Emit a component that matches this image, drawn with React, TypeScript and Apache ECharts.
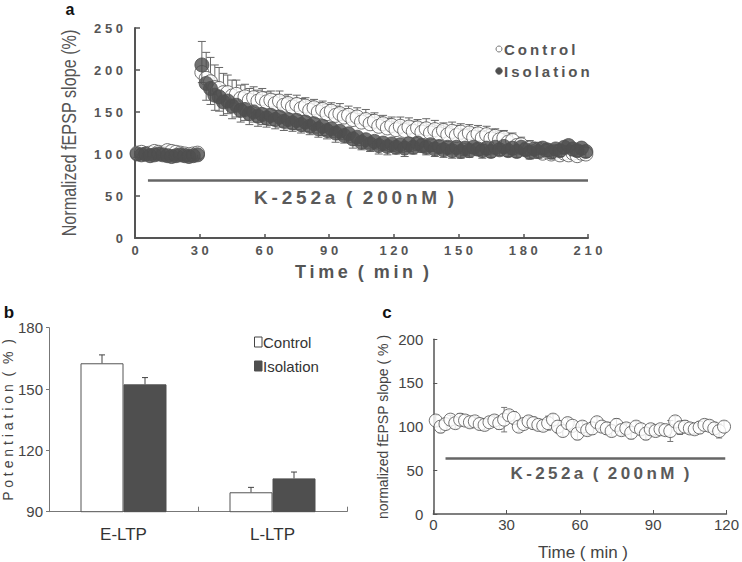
import React, { useEffect, useRef } from 'react';
import * as echarts from 'echarts';

// ---------- Panel a data (sampled every 2 min) ----------
const A_STEP = 2;
const aControlBase = [101, 102, 100, 101, 103, 102, 101, 104, 103, 102, 101, 100, 99, 100, 101];
const aIsoBase = [100, 99, 100, 98, 99, 100, 99, 98, 97, 98, 99, 98, 97, 98, 99];
const aControlBaseErr = [4, 4, 5, 4, 5, 4, 4, 5, 4, 4, 5, 4, 4, 5, 4];
const aIsoBaseErr = [4, 5, 4, 4, 5, 4, 5, 4, 4, 5, 4, 4, 5, 4, 4];
const aControlPost = [
  197, 190, 186, 179, 178, 173, 173, 169, 171, 166,
  168, 164, 167, 163, 166, 162, 164, 160, 163, 158,
  160, 156, 159, 154, 157, 152, 155, 150, 153, 148,
  151, 146, 148, 144, 146, 141, 144, 138, 141, 136,
  139, 133, 136, 131, 134, 129, 133, 128, 132, 127,
  131, 126, 130, 125, 129, 124, 128, 123, 127, 122,
  126, 121, 125, 120, 124, 119, 123, 118, 121, 117,
  119, 114, 116, 110, 111, 106, 107, 103, 105, 101,
  103, 100, 102, 99, 101, 99, 101, 98, 101, 100,
];
const aIsoPost = [
  206, 184, 178, 170, 168, 162, 163, 157, 158, 152,
  153, 148, 150, 145, 147, 143, 146, 141, 144, 139,
  141, 137, 140, 135, 138, 133, 136, 130, 133, 128,
  130, 125, 127, 122, 124, 118, 120, 114, 117, 112,
  115, 110, 113, 109, 112, 108, 111, 107, 112, 108,
  113, 110, 108, 111, 106, 109, 105, 108, 104, 108,
  103, 107, 104, 108, 106, 104, 107, 103, 108, 105,
  109, 104, 107, 103, 108, 105, 102, 106, 103, 107,
  105, 102, 106, 104, 108, 110, 106, 104, 107, 103,
];
const aControlPostErr = [
  37, 31, 29, 27, 25, 23, 21, 19, 17, 16,
  15, 14, 13, 13, 12, 12, 11, 11, 12, 11,
  11, 10, 11, 12, 10, 11, 10, 11, 10, 11,
  10, 11, 12, 10, 11, 10, 11, 10, 12, 11,
  10, 11, 10, 11, 10, 10, 11, 10, 11, 12,
  10, 11, 12, 10, 11, 10, 9, 10, 11, 12,
  10, 9, 10, 11, 10, 9, 10, 11, 9, 10,
  9, 10, 9, 8, 9, 10, 9, 8, 9, 8,
  9, 8, 9, 8, 9, 8, 9, 10, 9, 8,
];
const aIsoPostErr = [
  21, 20, 19, 18, 17, 16, 15, 15, 14, 14,
  13, 13, 12, 12, 12, 11, 12, 11, 12, 11,
  11, 10, 11, 10, 11, 10, 11, 10, 11, 10,
  10, 11, 10, 9, 10, 11, 10, 9, 10, 9,
  9, 10, 9, 10, 9, 8, 9, 10, 9, 8,
  9, 8, 9, 8, 9, 8, 9, 8, 9, 8,
  8, 9, 8, 7, 8, 9, 8, 7, 8, 7,
  8, 7, 8, 7, 8, 7, 8, 7, 8, 7,
  8, 7, 8, 7, 8, 9, 8, 7, 8, 7,
];
const aDrug = { from: 6, to: 210, level: 69 };

// ---------- Panel b data ----------
const bCategories = ['E-LTP', 'L-LTP'];
const bControl = [162.6, 99.5];
const bIsolation = [152.3, 106.3];
const bControlErr = [4.1, 2.4];
const bIsolationErr = [3.3, 3.1];

// ---------- Panel c data (sampled every 2 min) ----------
const C_STEP = 2;
const cValues = [
  107, 100, 103, 108, 104, 108, 107, 105, 106, 103,
  102, 105, 107, 104, 108, 113, 110, 100, 103, 106,
  104, 102, 101, 104, 108, 100, 95, 104, 101, 92,
  100, 96, 98, 105, 100, 98, 95, 102, 96, 98,
  93, 100, 97, 92, 97, 95, 97, 96, 95, 106,
  99, 100, 98, 97, 99, 102, 101, 98, 95, 100,
];
const cErr = [
  6, 7, 6, 5, 6, 7, 6, 6, 5, 6,
  6, 5, 6, 7, 14, 6, 7, 6, 5, 6,
  7, 6, 6, 8, 6, 7, 6, 6, 5, 7,
  6, 6, 7, 6, 6, 7, 6, 7, 6, 6,
  7, 6, 6, 7, 6, 6, 5, 6, 12, 6,
  8, 7, 6, 6, 7, 6, 6, 7, 8, 6,
];
const cDrug = { from: 5, to: 119.5, level: 64 };

const FONT = "'Liberation Sans', Arial, Helvetica, sans-serif";
const DARK = '#4f4f4f';
const AXIS = '#555555';
const THIN = '\u2009';

const spaced = (s: string, sep = ' ') => s.split('').join(sep);

function buildA(base: number[], post: number[], baseErr: number[], postErr: number[]) {
  const pts: number[][] = [];
  base.forEach((v, i) => pts.push([1 + A_STEP * i, v, baseErr[i]]));
  post.forEach((v, i) => pts.push([31 + A_STEP * i, v, postErr[i]]));
  return pts;
}

function errorBars(dir: 'up' | 'down' | 'both', capHalf: number, color: string, offsetPx = 0) {
  return (_params: any, api: any) => {
    const x = api.value(0);
    const y = api.value(1);
    const e = api.value(2);
    const sign = offsetPx ? api.value(3) : 0;
    const c = api.coord([x, y]);
    const px = c[0] + offsetPx * sign;
    const kids: any[] = [];
    const st = { stroke: color, lineWidth: 1 };
    const add = (yy: number) => {
      const p = api.coord([x, yy]);
      kids.push({ type: 'line', shape: { x1: px, y1: c[1], x2: px, y2: p[1] }, style: st });
      kids.push({ type: 'line', shape: { x1: px - capHalf, y1: p[1], x2: px + capHalf, y2: p[1] }, style: st });
    };
    if (dir !== 'down') add(y + e);
    if (dir !== 'up') add(y - e);
    return { type: 'group', children: kids };
  };
}

function txt(x: number, y: number, text: string, size: number, opts: any = {}) {
  const { weight = 'normal', color = '#444', align = 'center', rotation = 0, scaleX = 1, family = FONT } = opts;
  return {
    type: 'text',
    x,
    y,
    rotation,
    scaleX,
    silent: true,
    style: {
      text,
      fill: color,
      fontSize: size,
      fontWeight: weight,
      fontFamily: family,
      align,
      verticalAlign: 'middle',
      textAlign: align,
      textVerticalAlign: 'middle',
    },
  };
}

export default function App() {
  const ref = useRef<HTMLDivElement>(null);
  useEffect(() => {
    if (!ref.current) return;
    const chart = echarts.init(ref.current, undefined, { renderer: 'svg' });

    const aCtrl = buildA(aControlBase, aControlPost, aControlBaseErr, aControlPostErr);
    const aIso = buildA(aIsoBase, aIsoPost, aIsoBaseErr, aIsoPostErr);
    const cPts = cValues.map((v, i) => [1 + C_STEP * i, v, cErr[i]]);
    const bCtrlPts = bControl.map((v, i) => [i, v, bControlErr[i], -1]);
    const bIsoPts = bIsolation.map((v, i) => [i, v, bIsolationErr[i], 1]);

    const aLabel = { color: AXIS, fontSize: 13, fontWeight: 'bold', fontFamily: FONT };
    const cLabel = { color: '#444', fontSize: 15, fontFamily: FONT };

    const option: any = {
      animation: false,
      backgroundColor: '#ffffff',
      grid: [
        { left: 135, top: 28, width: 453, height: 210 },
        { left: 49, top: 327.7, width: 298, height: 184 },
        { left: 433.3, top: 339.3, width: 295, height: 174.7 },
      ],
      xAxis: [
        {
          gridIndex: 0, type: 'value', min: 0, max: 210, interval: 30,
          axisLine: { show: true, onZero: false, lineStyle: { color: AXIS, width: 2 } },
          axisTick: { show: true, inside: true, length: 4, lineStyle: { color: AXIS, width: 1.5 } },
          axisLabel: { ...aLabel, margin: 6, formatter: (v: number) => spaced(String(v)) },
          splitLine: { show: false },
        },
        {
          gridIndex: 1, type: 'category', data: bCategories,
          axisLine: { show: true, onZero: false, lineStyle: { color: '#777', width: 1 } },
          axisTick: { show: true, inside: true, length: 5, lineStyle: { color: '#777' } },
          axisLabel: { color: '#333', fontSize: 17, fontFamily: FONT, margin: 14 },
        },
        {
          gridIndex: 2, type: 'value', min: 0, max: 120, interval: 30,
          axisLine: { show: true, onZero: false, lineStyle: { color: AXIS, width: 1.5 } },
          axisTick: { show: true, inside: true, length: 4, lineStyle: { color: AXIS } },
          axisLabel: { ...cLabel, margin: 3 },
          splitLine: { show: false },
        },
      ],
      yAxis: [
        {
          gridIndex: 0, type: 'value', min: 0, max: 250, interval: 50,
          axisLine: { show: true, lineStyle: { color: AXIS, width: 2 } },
          axisTick: { show: true, inside: true, length: 5, lineStyle: { color: AXIS, width: 1.5 } },
          axisLabel: { ...aLabel, margin: 12, formatter: (v: number) => spaced(String(v)) },
          splitLine: { show: false },
        },
        {
          gridIndex: 1, type: 'value', min: 90, max: 180, interval: 30,
          axisLine: { show: true, lineStyle: { color: '#777', width: 1 } },
          axisTick: { show: true, inside: false, length: 3, lineStyle: { color: '#777' } },
          axisLabel: { color: '#444', fontSize: 15, fontFamily: FONT, margin: 6 },
          splitLine: { show: false },
        },
        {
          gridIndex: 2, type: 'value', min: 0, max: 200, interval: 50,
          axisLine: { show: true, lineStyle: { color: AXIS, width: 1.5 } },
          axisTick: { show: true, inside: true, length: 4, lineStyle: { color: AXIS } },
          axisLabel: { ...cLabel, margin: 10 },
          splitLine: { show: false },
        },
      ],
      series: [
        // ----- panel a -----
        {
          type: 'custom', name: 'ControlErr', xAxisIndex: 0, yAxisIndex: 0, z: 2,
          renderItem: errorBars('up', 4, '#666'), data: aCtrl, silent: true,
        },
        {
          type: 'scatter', name: 'Control', xAxisIndex: 0, yAxisIndex: 0, z: 3,
          symbol: 'circle', symbolSize: 14, data: aCtrl.map((p) => [p[0], p[1]]),
          itemStyle: { color: '#ffffff', borderColor: DARK, borderWidth: 1 },
          silent: true,
          markLine: {
            silent: true, symbol: 'none', label: { show: false },
            lineStyle: { color: '#666', width: 2.5, type: 'solid' },
            data: [[{ coord: [aDrug.from, aDrug.level] }, { coord: [aDrug.to, aDrug.level] }]],
          },
        },
        {
          type: 'custom', name: 'IsolationErr', xAxisIndex: 0, yAxisIndex: 0, z: 4,
          renderItem: errorBars('down', 4, '#666'), data: aIso, silent: true,
        },
        {
          type: 'scatter', name: 'Isolation', xAxisIndex: 0, yAxisIndex: 0, z: 5,
          symbol: 'circle', symbolSize: 14, data: aIso.map((p) => [p[0], p[1]]),
          itemStyle: { color: DARK, borderColor: DARK, borderWidth: 1 },
          silent: true,
        },
        // ----- panel b -----
        {
          type: 'bar', name: 'Control', xAxisIndex: 1, yAxisIndex: 1, barWidth: 43, barGap: '0%',
          data: bControl, itemStyle: { color: '#ffffff', borderColor: '#555', borderWidth: 1 }, silent: true,
        },
        {
          type: 'bar', name: 'Isolation', xAxisIndex: 1, yAxisIndex: 1, barWidth: 43, barGap: '0%',
          data: bIsolation, itemStyle: { color: DARK, borderColor: DARK, borderWidth: 1 }, silent: true,
        },
        {
          type: 'custom', name: 'bCtrlErr', xAxisIndex: 1, yAxisIndex: 1, z: 3,
          renderItem: errorBars('up', 3, '#444', 21.5), data: bCtrlPts, silent: true,
        },
        {
          type: 'custom', name: 'bIsoErr', xAxisIndex: 1, yAxisIndex: 1, z: 3,
          renderItem: errorBars('up', 3, '#444', 21.5), data: bIsoPts, silent: true,
        },
        // ----- panel c -----
        {
          type: 'custom', name: 'cErr', xAxisIndex: 2, yAxisIndex: 2, z: 2,
          renderItem: errorBars('both', 3, '#777'), data: cPts, silent: true,
        },
        {
          type: 'scatter', name: 'cControl', xAxisIndex: 2, yAxisIndex: 2, z: 3,
          symbol: 'circle', symbolSize: 13, data: cPts.map((p) => [p[0], p[1]]),
          itemStyle: { color: '#ffffff', borderColor: DARK, borderWidth: 1 },
          silent: true,
          markLine: {
            silent: true, symbol: 'none', label: { show: false },
            lineStyle: { color: '#666', width: 2.5, type: 'solid' },
            data: [[{ coord: [cDrug.from, cDrug.level] }, { coord: [cDrug.to, cDrug.level] }]],
          },
        },
      ],
      graphic: [
        // panel letters
        txt(70, 9, 'a', 16, { weight: 'bold', color: '#111' }),
        txt(9, 312, 'b', 17, { weight: 'bold', color: '#111' }),
        txt(387, 312, 'c', 17, { weight: 'bold', color: '#111' }),
        // panel a titles
        txt(69, 133, 'Normalized fEPSP slope (%)', 20, { rotation: Math.PI / 2, scaleX: 0.81, color: AXIS }),
        txt(362, 272, `T${THIN}i${THIN}m${THIN}e  (  m${THIN}i${THIN}n  )`, 18, { weight: 'bold', color: AXIS }),
        txt(354, 197, `K${THIN}-${THIN}2${THIN}5${THIN}2${THIN}a  (  2${THIN}0${THIN}0${THIN}n${THIN}M  )`, 19, { weight: 'bold', color: '#5a5a5a' }),
        // panel a legend
        { type: 'circle', shape: { cx: 499, cy: 49, r: 3 }, style: { fill: '#fff', stroke: '#777', lineWidth: 1 }, silent: true },
        txt(504, 49, spaced('Control', THIN), 15, { weight: 'bold', color: AXIS, align: 'left' }),
        { type: 'circle', shape: { cx: 499, cy: 71, r: 3.2 }, style: { fill: DARK, stroke: DARK, lineWidth: 1 }, silent: true },
        txt(504, 71, spaced('Isolation', THIN), 15, { weight: 'bold', color: AXIS, align: 'left' }),
        // panel b titles and legend
        txt(8, 420, 'P o t e n t i a t i o n  (  %  )', 14, { rotation: Math.PI / 2, color: '#444' }),
        { type: 'rect', shape: { x: 254.5, y: 337, width: 7.5, height: 10 }, style: { fill: '#fff', stroke: '#444', lineWidth: 1 }, silent: true },
        txt(263, 342, 'Control', 15, { align: 'left', color: '#333' }),
        { type: 'rect', shape: { x: 254.5, y: 361, width: 7.5, height: 10 }, style: { fill: DARK, stroke: DARK, lineWidth: 1 }, silent: true },
        txt(263, 366, 'Isolation', 15, { align: 'left', color: '#333' }),
        // panel c titles
        txt(383, 427, 'normalized fEPSP slope ( % )', 14, { rotation: Math.PI / 2, color: '#444' }),
        txt(583, 552, 'Time ( min )', 17, { color: '#444' }),
        txt(600, 473, `K${THIN}-${THIN}2${THIN}5${THIN}2${THIN}a  (  2${THIN}0${THIN}0${THIN}n${THIN}M  )`, 17, { weight: 'bold', color: '#5a5a5a' }),
      ],
    };

    chart.setOption(option);
    return () => chart.dispose();
  }, []);

  return (
    <div
      ref={ref}
      style={{ position: 'fixed', left: 0, top: 0, width: 742, height: 562, background: '#fff' }}
    />
  );
}
